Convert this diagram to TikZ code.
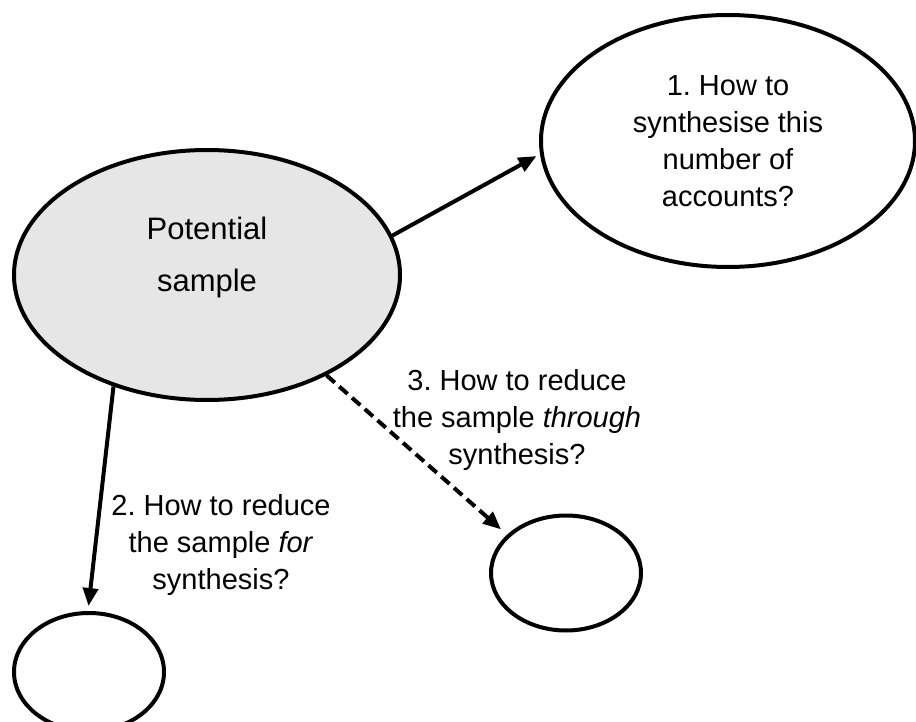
\documentclass[tikz,border=0pt]{standalone}
\usepackage{fontspec}
\setmainfont{Liberation Sans}
\usetikzlibrary{shapes.geometric,arrows.meta}
\frenchspacing
\begin{document}
\begin{tikzpicture}[x=1pt,y=-1pt,
  bubble/.style={ellipse,draw=black,line width=4pt,inner sep=0pt},
  qtext/.style={align=center,font=\fontsize{29}{37}\selectfont},
  link/.style={line width=4pt,-{Triangle[length=18pt,width=15pt]}},
  dashlink/.style={link,dash pattern=on 11pt off 6pt}]
\useasboundingbox (0,0) rectangle (916,722);
\clip (0,0) rectangle (916,722);

% central sample
\node[bubble,fill={rgb,255:red,230;green,230;blue,230},
      minimum width=386pt,minimum height=250pt] (sample) at (207,275) {};
\node[align=center,font=\fontsize{31}{52}\selectfont] (sampletext)
      at ([yshift=18pt]sample.center) {Potential\\sample};

% question 1
\node[bubble,qtext,minimum width=374pt,minimum height=252pt] (q1) at (728,141)
      {1. How to\\synthesise this\\number of\\accounts?};

% empty outcome bubbles
\node[bubble,minimum width=150pt,minimum height=118pt] (q2) at (89,672) {};
\node[bubble,minimum width=150pt,minimum height=115pt] (q3) at (566,573) {};

% question labels
\node[qtext] (l2) at (221,545) {2. How to reduce\\the sample \textit{for}\\synthesis?};
\node[qtext] (l3) at (517,420) {3. How to reduce\\the sample \textit{through}\\synthesis?};

% connectors
\draw[link,shorten >=4pt] (sample.12) -- (q1.184);
\draw[link,shorten >=5pt] (sample.230) -- (q2.91);
\draw[dashlink,shorten >=8pt] (sample.-40) -- (q3.147);
\end{tikzpicture}
\end{document}
